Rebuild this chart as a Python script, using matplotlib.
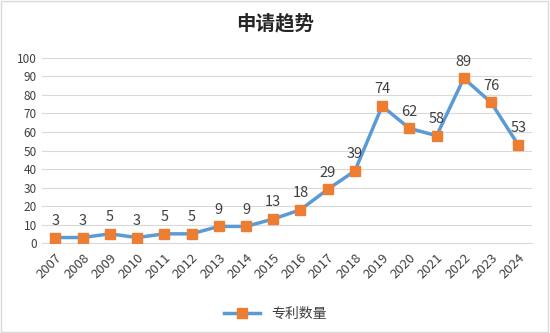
import matplotlib.pyplot as plt

plt.rcParams['font.family'] = ['Noto Sans CJK SC', 'DejaVu Sans']

years = ['2007', '2008', '2009', '2010', '2011', '2012', '2013', '2014', '2015',
         '2016', '2017', '2018', '2019', '2020', '2021', '2022', '2023', '2024']
counts = [3, 3, 5, 3, 5, 5, 9, 9, 13, 18, 29, 39, 74, 62, 58, 89, 76, 53]

fig = plt.figure(figsize=(5.5, 3.33), dpi=100)
ax = fig.add_axes([0.076, 0.27, 0.891, 0.556])

x = list(range(len(years)))
ax.plot(x, counts, color='#5B9BD5', linewidth=2.5, marker='s', markersize=6.5,
        markerfacecolor='#ED7D31', markeredgecolor='#ED7D31', label='专利数量', zorder=3)

for xi, v in zip(x, counts):
    ax.annotate(str(v), (xi, v), xytext=(0, 7), textcoords='offset points',
                ha='center', va='bottom', fontsize=10.5, color='#404040')

ax.set_xlim(-0.5, len(years) - 0.5)
ax.set_ylim(0, 100)
ax.set_yticks(range(0, 101, 10))
ax.set_xticks(x)
ax.set_xticklabels(years, rotation=45, ha='right', rotation_mode='anchor')
ax.tick_params(axis='y', length=0, labelsize=8.5, colors='#404040')
ax.tick_params(axis='x', length=0, labelsize=9.5, colors='#404040', pad=6)
ax.grid(axis='y', color='#D9D9D9', linewidth=0.8)
ax.set_axisbelow(True)
for side in ['top', 'right', 'left']:
    ax.spines[side].set_visible(False)
ax.spines['bottom'].set_color('#D9D9D9')

fig.text(0.5, 0.93, '申请趋势', ha='center', va='center', fontsize=14,
         fontweight='bold', color='#262626')

fig.legend(loc='lower center', bbox_to_anchor=(0.5, 0.0), frameon=False,
           fontsize=10, labelcolor='#404040', handlelength=2.6)

fig.patches.append(plt.Rectangle((0.002, 0.003), 0.995, 0.994, transform=fig.transFigure,
                                 fill=False, edgecolor='#D9D9D9', linewidth=1))

fig.savefig('out.png', dpi=100)
